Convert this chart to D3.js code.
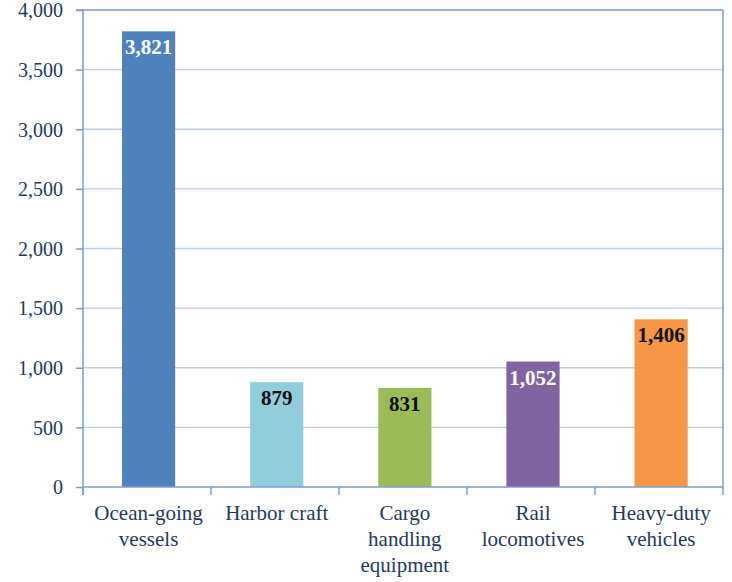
<!DOCTYPE html>
<html>
<head>
<meta charset="utf-8">
<script src="https://cdn.jsdelivr.net/npm/d3@7"></script>
<style>
  html, body { margin: 0; padding: 0; background: #fff; }
  svg { display: block; }
</style>
</head>
<body>
<svg id="chart" width="732" height="582"></svg>
<script>
// Emissions by source category
const categories = [
  ["Ocean-going", "vessels"],
  ["Harbor craft"],
  ["Cargo", "handling", "equipment"],
  ["Rail", "locomotives"],
  ["Heavy-duty", "vehicles"]
];
const values = [3821, 879, 831, 1052, 1406];
const barColors = ["#4f81bd", "#92cddc", "#9bbb59", "#8064a2", "#f79646"];
const labelColors = ["#ffffff", "#111111", "#111111", "#ffffff", "#111111"];
const yTicks = [0, 500, 1000, 1500, 2000, 2500, 3000, 3500, 4000];

(function () {
  const svg = d3.select("#chart");
  const plotLeft = 83, plotRight = 723, plotTop = 10, plotBottom = 487;
  const textColor = "#1f3a60";
  const axisColor = "#7a9dd0";
  const fontFam = '"Liberation Serif"';

  const x = d3.scaleBand()
    .domain(d3.range(values.length))
    .range([plotLeft, plotRight])
    .paddingInner(0.585)
    .paddingOuter(0.29)
    .align(0.525);

  const y = d3.scaleLinear().domain([0, 4000]).range([plotBottom, plotTop]);

  // gridlines
  svg.append("g")
    .selectAll("line")
    .data(yTicks.filter(d => d > 0 && d < 4000))
    .join("line")
    .attr("x1", plotLeft).attr("x2", plotRight)
    .attr("y1", d => y(d)).attr("y2", d => y(d))
    .attr("stroke", "#bccde6").attr("stroke-width", 1.3);

  // top and right frame
  svg.append("line")
    .attr("x1", plotLeft).attr("x2", plotRight)
    .attr("y1", y(4000)).attr("y2", y(4000))
    .attr("stroke", axisColor).attr("stroke-width", 1.5);
  svg.append("line")
    .attr("x1", plotRight).attr("x2", plotRight)
    .attr("y1", plotTop).attr("y2", plotBottom)
    .attr("stroke", axisColor).attr("stroke-width", 1.5);

  // bars
  svg.append("g")
    .selectAll("rect")
    .data(values)
    .join("rect")
    .attr("x", (d, i) => x(i))
    .attr("y", d => y(d))
    .attr("width", x.bandwidth())
    .attr("height", d => plotBottom - y(d))
    .attr("fill", (d, i) => barColors[i]);

  // value labels
  const fmt = d3.format(",");
  svg.append("g")
    .selectAll("text")
    .data(values)
    .join("text")
    .attr("x", (d, i) => x(i) + x.bandwidth() / 2)
    .attr("y", d => y(d) + 23)
    .attr("text-anchor", "middle")
    .style("font-family", fontFam)
    .style("font-size", "21px")
    .style("font-weight", "bold")
    .attr("fill", (d, i) => labelColors[i])
    .text(d => fmt(d));

  // y axis
  const yAxis = d3.axisLeft(y)
    .tickValues(yTicks)
    .tickSize(7)
    .tickPadding(13)
    .tickFormat(d => fmt(d));
  const gy = svg.append("g")
    .attr("transform", `translate(${plotLeft},0)`)
    .call(yAxis);
  gy.attr("font-family", null);
  gy.select(".domain").attr("stroke", axisColor).attr("stroke-width", 1.5)
    .attr("d", `M-7,${plotTop}H0V${plotBottom + 8}`);
  gy.selectAll(".tick line").attr("stroke", axisColor).attr("stroke-width", 1.5);
  gy.selectAll(".tick text")
    .style("font-family", fontFam)
    .style("font-size", "20px")
    .attr("fill", textColor)
    .attr("dy", "0.34em");

  // x axis with ticks on category boundaries
  const boundaries = d3.range(values.length + 1)
    .map(i => plotLeft + (plotRight - plotLeft) * i / values.length);
  svg.append("line")
    .attr("x1", plotLeft).attr("x2", plotRight)
    .attr("y1", plotBottom).attr("y2", plotBottom)
    .attr("stroke", axisColor).attr("stroke-width", 1.5);
  svg.append("g")
    .selectAll("line")
    .data(boundaries)
    .join("line")
    .attr("x1", d => d).attr("x2", d => d)
    .attr("y1", plotBottom).attr("y2", plotBottom + 8)
    .attr("stroke", axisColor).attr("stroke-width", 1.5);

  // category labels
  const catG = svg.append("g")
    .selectAll("text")
    .data(categories)
    .join("text")
    .attr("x", (d, i) => x(i) + x.bandwidth() / 2)
    .attr("y", 520)
    .attr("text-anchor", "middle")
    .style("font-family", fontFam)
    .style("font-size", "21px")
    .attr("fill", textColor);
  catG.selectAll("tspan")
    .data(d => d)
    .join("tspan")
    .attr("x", function () { return d3.select(this.parentNode).attr("x"); })
    .attr("dy", (d, i) => i === 0 ? 0 : 26)
    .text(d => d);
})();
</script>
</body>
</html>
